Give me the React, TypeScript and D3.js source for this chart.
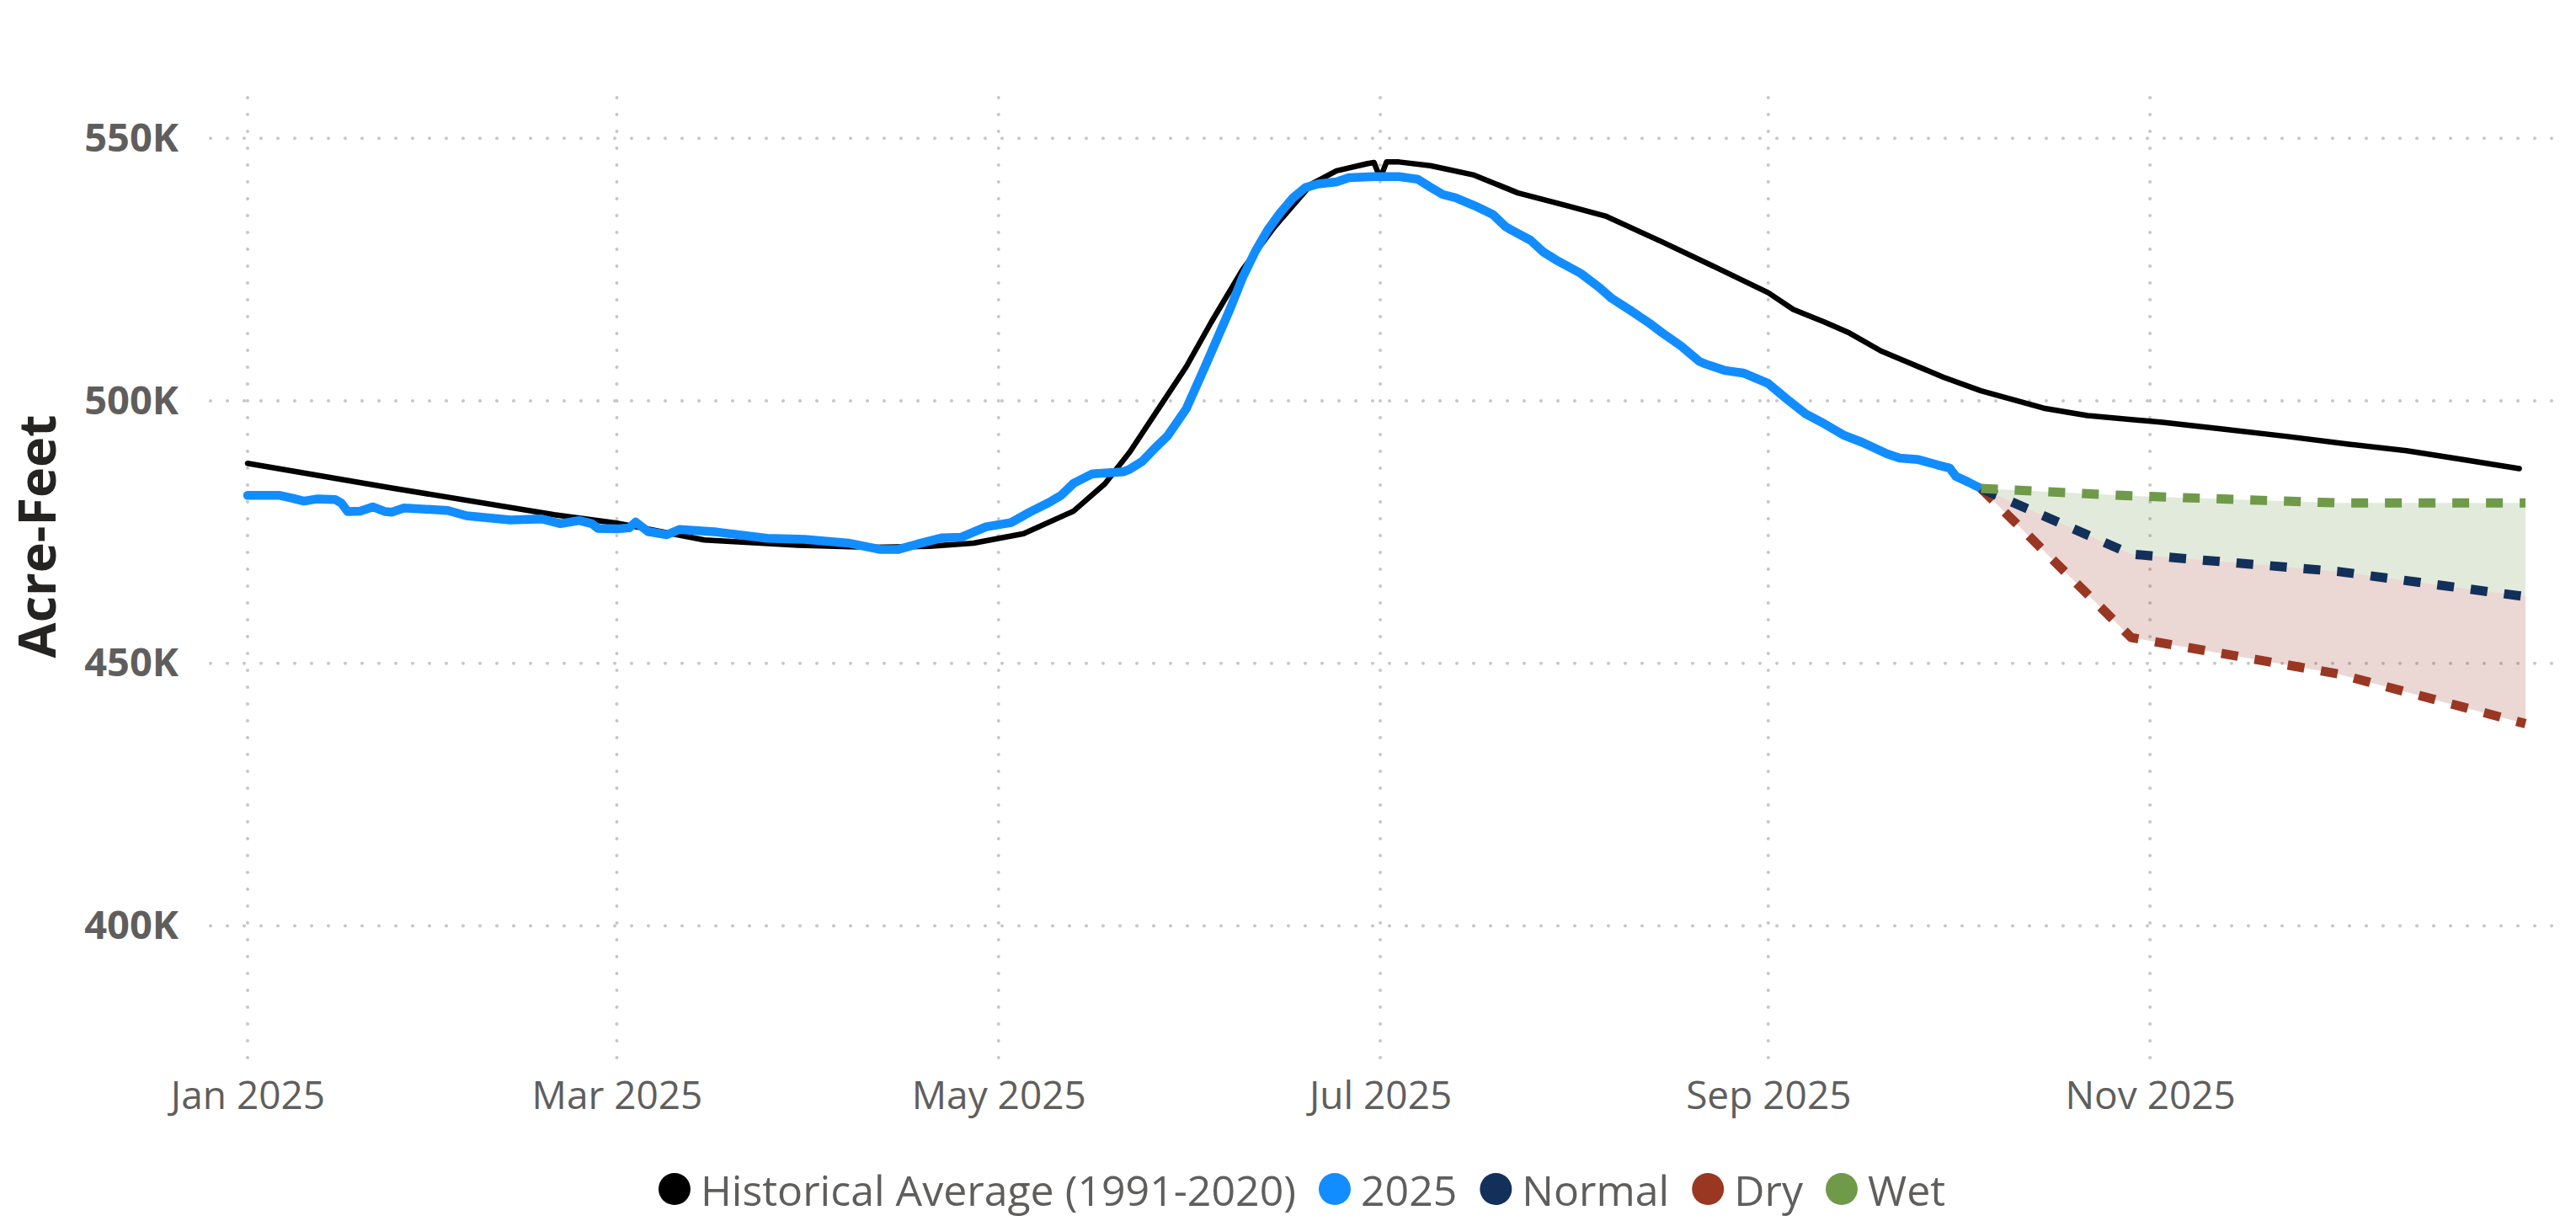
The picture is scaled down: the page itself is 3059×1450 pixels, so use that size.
import React, { useEffect, useRef } from "react";
import * as d3 from "d3";

// ---------- data ----------
const histDates = [
  "2025-01-01","2025-01-24","2025-02-19","2025-03-01","2025-03-15","2025-03-30","2025-04-11","2025-04-20",
  "2025-04-27","2025-05-05","2025-05-13","2025-05-18","2025-05-22","2025-05-26","2025-05-31","2025-06-04",
  "2025-06-09","2025-06-14","2025-06-20","2025-06-24","2025-06-29","2025-06-30","2025-07-01","2025-07-02",
  "2025-07-04","2025-07-09","2025-07-16","2025-07-23","2025-07-31","2025-08-06","2025-08-15","2025-08-24",
  "2025-09-01","2025-09-05","2025-09-10","2025-09-14","2025-09-19","2025-09-23","2025-09-29","2025-10-05",
  "2025-10-15","2025-10-22","2025-11-03","2025-11-12","2025-11-23","2025-12-03","2025-12-12","2025-12-21",
  "2025-12-30"
];
const histValues = [
  488100,483400,478300,476700,473500,472500,472100,472300,
  472900,474700,479000,484200,490300,497500,506500,515000,
  525000,533000,541300,543800,545200,545400,542400,545500,
  545500,544800,543000,539600,537100,535200,530300,525200,
  520600,517400,515000,512900,509500,507500,504500,501900,
  498600,497200,495900,494700,493200,491700,490500,488800,
  487100
];

const y2025Dates = [
  "2025-01-01","2025-01-06","2025-01-08","2025-01-10","2025-01-12","2025-01-15","2025-01-16","2025-01-17",
  "2025-01-19","2025-01-21","2025-01-23","2025-01-24","2025-01-26","2025-02-02","2025-02-05","2025-02-12",
  "2025-02-17","2025-02-20","2025-02-23","2025-02-25","2025-02-26","2025-03-01","2025-03-03","2025-03-04",
  "2025-03-06","2025-03-09","2025-03-11","2025-03-17","2025-03-25","2025-03-31","2025-04-07","2025-04-10",
  "2025-04-12","2025-04-15","2025-04-18","2025-04-22","2025-04-25","2025-04-29","2025-05-03","2025-05-06",
  "2025-05-09","2025-05-11","2025-05-13","2025-05-16","2025-05-21","2025-05-22","2025-05-24","2025-05-26",
  "2025-05-28","2025-05-31","2025-06-03","2025-06-05","2025-06-07","2025-06-09","2025-06-11","2025-06-13",
  "2025-06-15","2025-06-17","2025-06-19","2025-06-21","2025-06-24","2025-06-26","2025-06-30","2025-07-04",
  "2025-07-07","2025-07-09","2025-07-11","2025-07-13","2025-07-16","2025-07-19","2025-07-21","2025-07-22",
  "2025-07-25","2025-07-27","2025-07-29","2025-08-02","2025-08-05","2025-08-07","2025-08-10","2025-08-13",
  "2025-08-15","2025-08-18","2025-08-21","2025-08-22","2025-08-25","2025-08-28","2025-09-01","2025-09-04",
  "2025-09-07","2025-09-10","2025-09-13","2025-09-16","2025-09-20","2025-09-22","2025-09-25","2025-09-28",
  "2025-09-30","2025-10-01","2025-10-03","2025-10-05"
];
const y2025Values = [
  482000,482000,481500,480900,481300,481200,480500,478900,
  479000,479800,478900,478800,479600,479100,478100,477300,
  477500,476600,477200,476600,475700,475600,475800,476900,
  475100,474500,475500,475000,473800,473600,472900,472200,
  471700,471700,472700,473900,474000,476000,476800,478800,
  480600,482000,484300,486100,486500,487000,488500,491000,
  493300,498500,506500,512000,517500,523500,528400,532500,
  535800,538600,540600,541300,541700,542500,542700,542700,
  542200,540700,539300,538700,537200,535500,533200,532500,
  530600,528400,526900,524300,521600,519500,517200,514800,
  513000,510500,507500,507000,505800,505300,503300,500300,
  497500,495600,493500,492100,489900,489100,488800,487800,
  487200,485600,484500,483300
];

const forecastDates = ["2025-10-05","2025-10-29","2025-12-01","2025-12-31"];
const normalValues = [483300, 470800, 467500, 462700];
const dryValues = [483300, 454900, 448000, 438500];
const wetValues = [483300, 481900, 480550, 480550];

const yTicks = [400000, 450000, 500000, 550000];
const xTickDates = ["2025-01-01","2025-03-01","2025-05-01","2025-07-01","2025-09-01","2025-11-01"];

const legendNames = ["Historical Average (1991-2020)", "2025", "Normal", "Dry", "Wet"];
const legendColors = ["#000000", "#118DFF", "#12305A", "#9A3722", "#6F9A4A"];

const yTitle = "Acre-Feet";

// ---------- component ----------
export default function App() {
  const ref = useRef<SVGSVGElement | null>(null);

  useEffect(() => {
    document.body.style.margin = "0";
    const svg = d3.select(ref.current);
    svg.selectAll("*").remove();

    const parse = d3.utcParse("%Y-%m-%d");
    const font = "'Open Sans', 'Segoe UI', sans-serif";
    const textGray = "#605E5C";

    const x = d3.scaleUtc()
      .domain([parse("2025-01-01")!, parse("2025-12-31")!])
      .range([294, 2999]);
    const y = d3.scaleLinear().domain([400000, 550000]).range([1099.4, 164.3]);

    const plotLeft = 250, plotRight = 3035, plotTop = 116, plotBottom = 1258;

    // grid
    const grid = svg.append("g");
    grid.selectAll("line.h").data(yTicks).join("line")
      .attr("x1", plotLeft).attr("x2", plotRight)
      .attr("y1", (d) => y(d)).attr("y2", (d) => y(d))
      .attr("stroke", "#C8C6C4").attr("stroke-width", 4)
      .attr("stroke-linecap", "round").attr("stroke-dasharray", "0 20");
    grid.selectAll("line.v").data(xTickDates.map((s) => parse(s)!)).join("line")
      .attr("x1", (d) => x(d)).attr("x2", (d) => x(d))
      .attr("y1", plotTop).attr("y2", plotBottom)
      .attr("stroke", "#C8C6C4").attr("stroke-width", 4)
      .attr("stroke-linecap", "round").attr("stroke-dasharray", "0 20");

    // forecast fills
    const fc = forecastDates.map((s, i) => ({
      date: parse(s)!, normal: normalValues[i], dry: dryValues[i], wet: wetValues[i],
    }));
    svg.append("path").datum(fc)
      .attr("fill", legendColors[4]).attr("fill-opacity", 0.2)
      .attr("d", d3.area<any>().x((d) => x(d.date)).y0((d) => y(d.normal)).y1((d) => y(d.wet)));
    svg.append("path").datum(fc)
      .attr("fill", legendColors[3]).attr("fill-opacity", 0.2)
      .attr("d", d3.area<any>().x((d) => x(d.date)).y0((d) => y(d.dry)).y1((d) => y(d.normal)));

    // historical
    const hist = histDates.map((s, i) => ({ date: parse(s)!, v: histValues[i] }));
    const line = d3.line<any>().x((d) => x(d.date)).y((d) => y(d.v));
    svg.append("path").datum(hist)
      .attr("fill", "none").attr("stroke", legendColors[0]).attr("stroke-width", 6.5)
      .attr("stroke-linecap", "round").attr("stroke-linejoin", "round")
      .attr("d", line);

    // 2025
    const cur = y2025Dates.map((s, i) => ({ date: parse(s)!, v: y2025Values[i] }));
    svg.append("path").datum(cur)
      .attr("fill", "none").attr("stroke", legendColors[1]).attr("stroke-width", 10.5)
      .attr("stroke-linecap", "round").attr("stroke-linejoin", "round")
      .attr("d", line);

    // forecast dashed lines
    const series: [number[], string][] = [
      [dryValues, legendColors[3]],
      [normalValues, legendColors[2]],
      [wetValues, legendColors[4]],
    ];
    series.forEach(([vals, color]) => {
      const pts = forecastDates.map((s, i) => ({ date: parse(s)!, v: vals[i] }));
      svg.append("path").datum(pts)
        .attr("fill", "none").attr("stroke", color).attr("stroke-width", 11)
        .attr("stroke-dasharray", "20 20").attr("stroke-linejoin", "round")
        .attr("d", line);
    });

    // y axis
    const yAxis = svg.append("g").attr("transform", "translate(222,0)")
      .call(d3.axisLeft(y).tickValues(yTicks).tickSize(0).tickPadding(10)
        .tickFormat((d: any) => `${d / 1000}K`));
    yAxis.select(".domain").remove();
    yAxis.selectAll("text")
      .attr("font-family", font).attr("font-size", 47).attr("font-weight", 700)
      .attr("fill", textGray);

    // x axis
    const xAxis = svg.append("g").attr("transform", "translate(0,1274)")
      .call(d3.axisBottom(x).tickValues(xTickDates.map((s) => parse(s)!)).tickSize(0).tickPadding(10)
        .tickFormat((d: any) => d3.utcFormat("%b %Y")(d)));
    xAxis.select(".domain").remove();
    xAxis.selectAll("text")
      .attr("font-family", font).attr("font-size", 46).attr("font-weight", 400)
      .attr("fill", textGray);

    // y title
    svg.append("text")
      .attr("transform", "translate(66,637) rotate(-90)")
      .attr("text-anchor", "middle")
      .attr("font-family", font).attr("font-size", 61).attr("font-weight", 700)
      .attr("fill", "#252423")
      .text(yTitle);

    // legend
    const lg = svg.append("g");
    const r = 19;
    const items = legendNames.map((name, i) => {
      const g = lg.append("g");
      g.append("circle").attr("r", r).attr("cx", 0).attr("cy", 1412).attr("fill", legendColors[i]);
      const t = g.append("text").attr("x", r + 12).attr("y", 1432)
        .attr("font-family", font).attr("font-size", 50).attr("fill", textGray).text(name);
      const w = (t.node() as SVGTextElement).getComputedTextLength();
      return { g, w };
    });
    const gap = 27;
    const widths = items.map((it) => 2 * r + 12 + it.w);
    const total = d3.sum(widths) + gap * (items.length - 1);
    let cx = 1546 - total / 2;
    items.forEach((it, i) => {
      it.g.attr("transform", `translate(${cx + r},0)`);
      cx += widths[i] + gap;
    });
  }, []);

  return <svg ref={ref} width={3059} height={1450} style={{ display: "block", background: "#fff" }} />;
}
